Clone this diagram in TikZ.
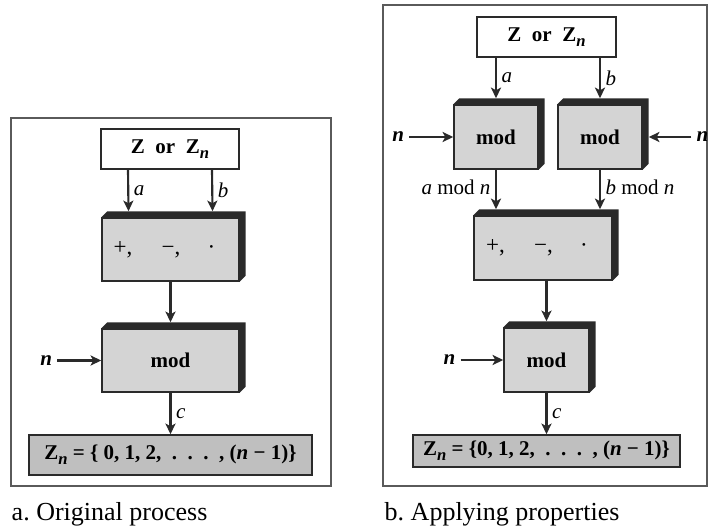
\documentclass[tikz,border=0pt]{standalone}
\usepackage{fontspec}
\setmainfont{Liberation Serif}
\usetikzlibrary{arrows.meta, positioning}

\definecolor{facegray}{HTML}{D4D4D4}
\definecolor{setgray}{HTML}{BFBFBF}
\definecolor{rimgray}{HTML}{2A2A2A}
\definecolor{framegray}{HTML}{5A5A5A}

\newcommand{\subn}{\raisebox{-3.5pt}{\fontsize{12.5}{12}\selectfont\bfseries\itshape n}}
\newcommand{\ops}{\fontsize{17.25}{18}\selectfont
  +,\hspace{22pt}\textminus,\hspace{20.5pt}\textperiodcentered\hspace*{9pt}}

\tikzset{
  frame/.style = {draw=framegray, line width=1.1pt},
  plain/.style = {draw=rimgray, line width=1.1pt, fill=white, inner sep=0pt},
  block/.style = {plain, fill=facegray},
  setbox/.style = {plain, fill=setgray},
  conn/.style = {draw=rimgray, line width=1.6pt, -{Stealth[length=8pt, width=7.5pt, inset=2pt]}},
  caption/.style = {font=\fontsize{19.5}{22}\selectfont, inner sep=0pt},
}

\begin{document}
\begin{tikzpicture}[x=0.75pt, y=-0.75pt, line width=1.1pt,
    font=\fontsize{15.75}{18}\selectfont, node distance=33pt]
  \useasboundingbox (0,0) rectangle (708,529);
  \draw[frame] (11,118) rectangle (331,486);
  \draw[frame] (383,5) rectangle (707,486);

  % a. Original process
  \node[plain, minimum width=103.5pt, minimum height=30pt] (zl) at (170,149)
    {\bfseries Z\ \ or\ \ Z\subn};
  \node[block, minimum width=102.75pt, minimum height=47.25pt] (ol) at (170.5,249.5) {\ops};
  \node[block, minimum width=102.75pt, minimum height=47.25pt] (ml) at (170.5,360.5)
    {\bfseries mod};
  \node[setbox, minimum width=212.25pt, minimum height=30pt] (sl) at (170.5,455)
    {\bfseries Z\subn\ = \{ 0, 1, 2,\ \ .\ \ .\ \ .\ \ , (\textit{n} \textminus\ 1)\}};
  \node (nl) [left=of ml] {\bfseries\itshape n};
  \node[caption, anchor=base west] (capa) at (11,520) {a.\ Original process};

  % b. Applying properties
  \node[plain, minimum width=104.25pt, minimum height=30pt] (zr) at (546.5,37)
    {\bfseries Z\ \ or\ \ Z\subn};
  \node[block, minimum width=63pt, minimum height=48pt] (mal) at (496,137) {\bfseries mod};
  \node[block, minimum width=63pt, minimum height=48pt] (mbr) at (600,137) {\bfseries mod};
  \node[block, minimum width=103.5pt, minimum height=48pt] (or) at (543,248) {\ops};
  \node[block, minimum width=63.75pt, minimum height=48pt] (mr) at (546.5,360) {\bfseries mod};
  \node[setbox, minimum width=200.25pt, minimum height=24pt] (sr) at (546.5,451)
    {\bfseries Z\subn\ = \{0, 1, 2,\ \ .\ \ .\ \ .\ \ , (\textit{n} \textminus\ 1)\}};
  \node (nal) [left=of mal] {\bfseries\itshape n};
  \node (nbr) [right=36.5pt of mbr] {\bfseries\itshape n};
  \node (nr) [left=32pt of mr] {\bfseries\itshape n};
  \node[caption, anchor=base west] (capb) at (384,520) {b.\ Applying properties};

  % raised rims
  \foreach \b in {ol, ml, mal, mbr, or, mr}
    \fill[rimgray] (\b.north west) -- ++(6,-6) -- ([shift={(6,-6)}]\b.north east)
      -- ([shift={(6,-6)}]\b.south east) -- (\b.south east) -- (\b.north east) -- cycle;

  \draw[conn] ([xshift=-31.5pt]zl.south) -- node[right] {\itshape a} ([xshift=-31.5pt, yshift=4.5pt]ol.north);
  \draw[conn] ([xshift=31.5pt]zl.south) -- node[right] {\itshape b} ([xshift=31.5pt, yshift=4.5pt]ol.north);
  \draw[conn] (ol.south) -- ([yshift=4.5pt]ml.north);
  \draw[conn] (nl) -- (ml);
  \draw[conn] (ml.south) -- node[right] {\itshape c} (sl.north);

  \draw[conn] (zr.south -| mal) -- node[right] {\itshape a} ([yshift=4.5pt]mal.north);
  \draw[conn] (zr.south -| mbr) -- node[right] {\itshape b} ([yshift=4.5pt]mbr.north);
  \draw[conn] (nal) -- (mal);
  \draw[conn] (nbr) -- ([xshift=4.5pt]mbr.east);
  \draw[conn] (mal.south) -- node[left, pos=0.45] {\textit{a} mod \textit{n}} ([yshift=4.5pt]or.north -| mal);
  \draw[conn] (mbr.south) -- node[right, pos=0.45] {\textit{b} mod \textit{n}} ([yshift=4.5pt]or.north -| mbr);
  \draw[conn] (or.south -| mr) -- ([yshift=4.5pt]mr.north);
  \draw[conn] (nr) -- (mr);
  \draw[conn] (mr.south) -- node[right] {\itshape c} (sr.north);
\end{tikzpicture}
\end{document}
